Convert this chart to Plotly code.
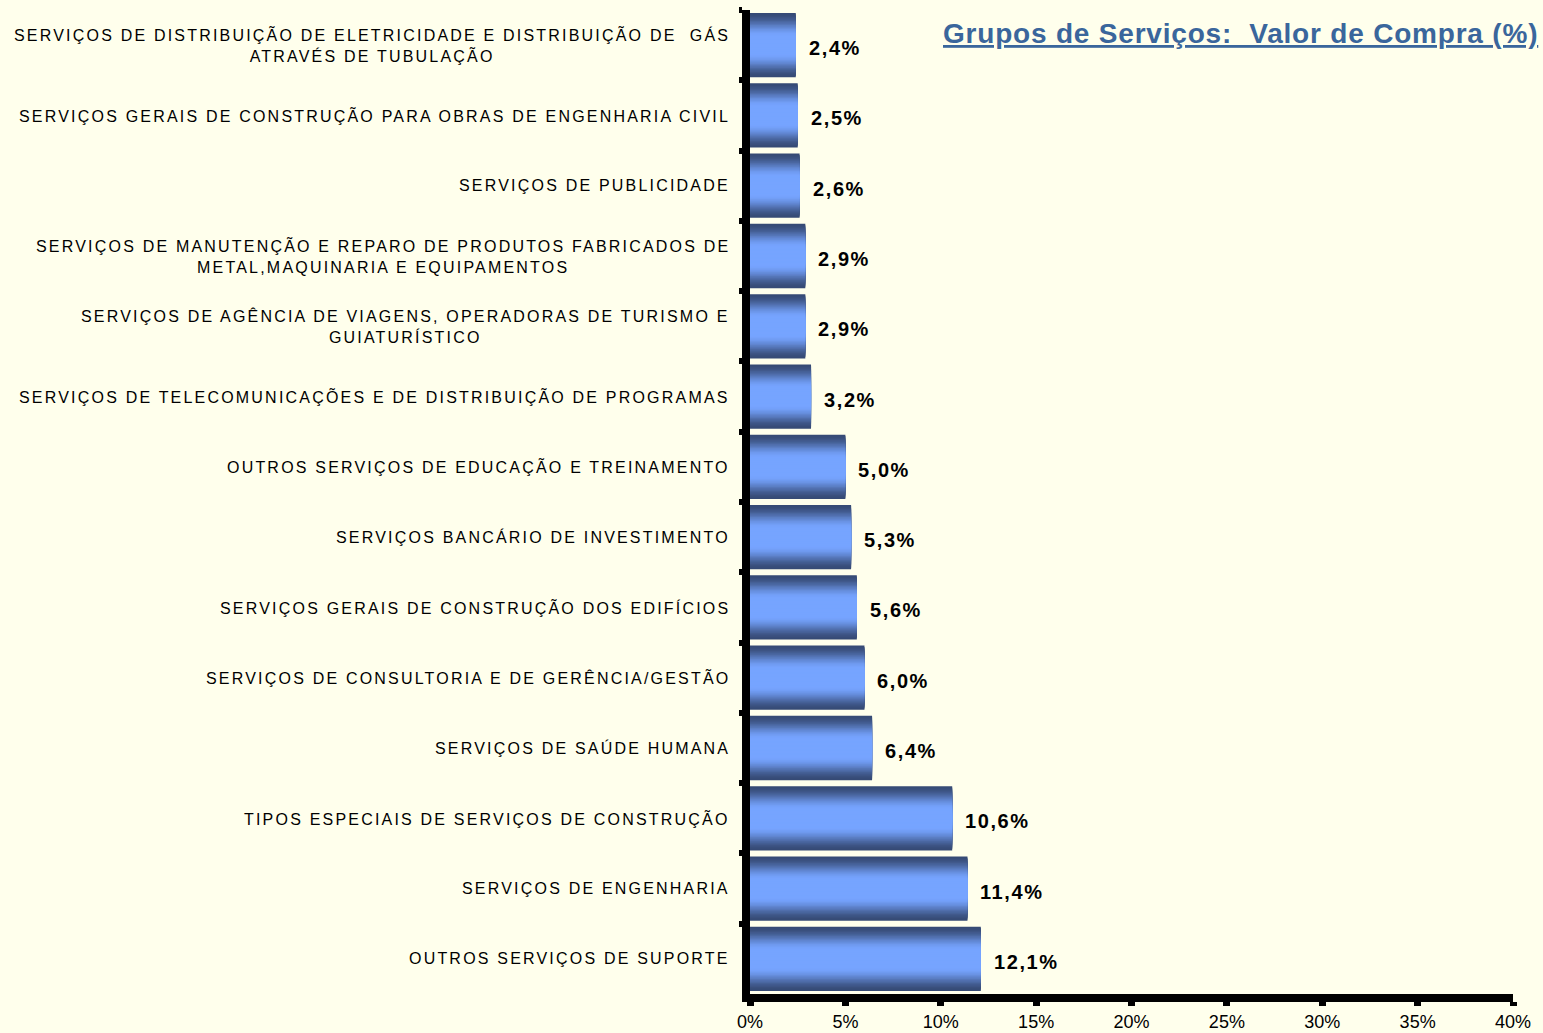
import plotly.graph_objects as go

# ---------------- data ----------------
categories = [
    "SERVIÇOS DE DISTRIBUIÇÃO DE ELETRICIDADE E DISTRIBUIÇÃO DE  GÁS<br>ATRAVÉS DE TUBULAÇÃO",
    "SERVIÇOS GERAIS DE CONSTRUÇÃO PARA OBRAS DE ENGENHARIA CIVIL",
    "SERVIÇOS DE PUBLICIDADE",
    "SERVIÇOS DE MANUTENÇÃO E REPARO DE PRODUTOS FABRICADOS DE<br>METAL,MAQUINARIA E EQUIPAMENTOS",
    "SERVIÇOS DE AGÊNCIA DE VIAGENS, OPERADORAS DE TURISMO E<br>GUIATURÍSTICO",
    "SERVIÇOS DE TELECOMUNICAÇÕES E DE DISTRIBUIÇÃO DE PROGRAMAS",
    "OUTROS SERVIÇOS DE EDUCAÇÃO E TREINAMENTO",
    "SERVIÇOS BANCÁRIO DE INVESTIMENTO",
    "SERVIÇOS GERAIS DE CONSTRUÇÃO DOS EDIFÍCIOS",
    "SERVIÇOS DE CONSULTORIA E DE GERÊNCIA/GESTÃO",
    "SERVIÇOS DE SAÚDE HUMANA",
    "TIPOS ESPECIAIS DE SERVIÇOS DE CONSTRUÇÃO",
    "SERVIÇOS DE ENGENHARIA",
    "OUTROS SERVIÇOS DE SUPORTE",
]
values = [2.4, 2.5, 2.6, 2.9, 2.9, 3.2, 5.0, 5.3, 5.6, 6.0, 6.4, 10.6, 11.4, 12.1]
value_labels = [f"{v:.1f}".replace(".", ",") + "%" for v in values]
x_tick_values = [0, 5, 10, 15, 20, 25, 30, 35, 40]
x_tick_labels = [f"{t}%" for t in x_tick_values]
title_text = "Grupos de Serviços:  Valor de Compra (%)"

# ---------------- style ----------------
BG = "#FFFFEC"
DARK = (0x36, 0x4A, 0x75)
LIGHT = (0x76, 0xA4, 0xFF)
BAR_W = 0.915
N_LAYERS = 24
FONT = "Liberation Sans, Arial, sans-serif"


def mix(a, b, s):
    return "rgb(%d,%d,%d)" % tuple(round(a[i] + (b[i] - a[i]) * s) for i in range(3))


def spaced(text, px):
    return "<br>".join(
        f"<span style='letter-spacing:{px}px'>{line}</span>" for line in text.split("<br>")
    )


fig = go.Figure()
# vertical gradient emulated by overlaid bars of decreasing thickness
for k in range(N_LAYERS):
    frac = 1 - k / N_LAYERS
    t = 1 - (k + 0.5) / N_LAYERS  # distance from bar centre (1 = edge)
    s = min(1.0, max(0.0, (1 - t) / 0.72))
    s = s * s * (3 - 2 * s)
    fig.add_trace(go.Bar(
        y=categories, x=values, orientation="h",
        width=BAR_W * frac,
        marker=dict(color=mix(DARK, LIGHT, s), line=dict(width=0)),
        hoverinfo="x+y" if k == 0 else "skip",
        showlegend=False,
    ))

annotations = []
for cat, v, lab in zip(categories, values, value_labels):
    annotations.append(dict(
        xref="paper", yref="y", x=0, y=cat, xanchor="right", yanchor="middle",
        xshift=-18, text=spaced(cat, 2.2), showarrow=False, align="center",
        font=dict(family=FONT, size=16, color="black"),
    ))
    annotations.append(dict(
        xref="x", yref="y", x=v, y=cat, xanchor="left", yanchor="middle",
        xshift=11, yshift=-3, text=spaced(lab, 1.6), showarrow=False,
        font=dict(family=FONT, size=20, color="black", weight="bold"),
    ))

annotations.append(dict(
    xref="paper", yref="paper", x=1, y=1, xanchor="right", yanchor="middle",
    xshift=27, yshift=-23, text=spaced(title_text, 0.8), showarrow=False,
    font=dict(family=FONT, size=28, color="#3A669C", weight="bold", lineposition="under"),
))

fig.update_layout(
    width=1543, height=1033,
    margin=dict(l=750, r=30, t=10, b=39),
    paper_bgcolor=BG, plot_bgcolor=BG,
    barmode="overlay", showlegend=False,
    annotations=annotations,
    xaxis=dict(
        range=[0, 40], tickvals=x_tick_values, ticktext=x_tick_labels,
        showgrid=False, zeroline=False, showline=True, linewidth=8, linecolor="black",
        ticks="outside", ticklen=4, tickwidth=7, tickcolor="black", automargin=False,
        tickfont=dict(family=FONT, size=18, color="black"),
    ),
    yaxis=dict(
        autorange="reversed", showticklabels=False, showgrid=False, zeroline=False,
        showline=True, linewidth=8, linecolor="black", automargin=False,
        ticks="outside", tickson="boundaries", ticklen=3, tickwidth=6, tickcolor="black",
    ),
)

fig.write_html(
    "out.html",
    config={"displayModeBar": False},
    post_script="document.body.style.margin='0';document.body.style.overflow='hidden';",
)
